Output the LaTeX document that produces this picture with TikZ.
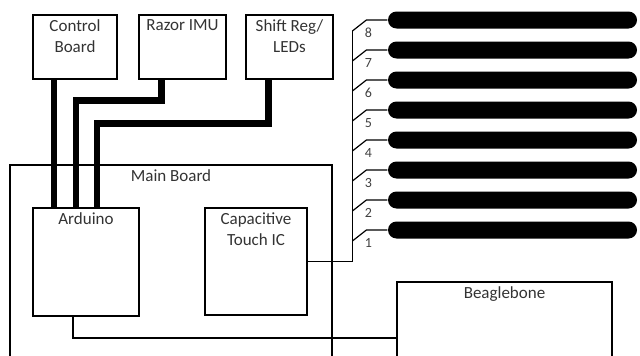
\documentclass[tikz,border=0pt]{standalone}
\usepackage{fontspec}
\setmainfont{Carlito}
\usetikzlibrary{shapes.misc}

\begin{document}
\begin{tikzpicture}[x=1pt, y=-1pt, node distance=30pt, line width=1.2pt,
  board/.style={draw, rectangle, inner sep=0pt},
  boardname/.style={anchor=north, yshift=-1pt, align=center, text=black!80,
    font=\fontsize{17}{21}\selectfont},
  wire/.style={line width=6.5pt},
  pad/.style={rounded rectangle, fill=black, minimum width=249pt,
    minimum height=17pt, inner sep=0pt},
  pin/.style={text=black!75, font=\fontsize{14}{16}\selectfont}]

  \useasboundingbox (0,0) rectangle (640,356);
  \clip (0,0) rectangle (640,356);

  % boards
  \node[board, minimum width=322pt, minimum height=235pt,
    label={[boardname]north:Main Board}] (main) at (171,282.5) {};
  \node[board, minimum width=84pt, minimum height=64pt,
    label={[boardname]north:Control\\Board}] (ctrl) at (75,47) {};
  \node[board, minimum width=87pt, minimum height=64pt,
    label={[boardname]north:Razor IMU}] (imu) at (182.5,47) {};
  \node[board, minimum width=87pt, minimum height=64pt,
    label={[boardname]north:Shift Reg/\\LEDs}] (shift) at (289.5,47) {};
  \node[board, minimum width=106pt, minimum height=108pt,
    label={[boardname]north:Arduino}] (ard) at (86,262) {};
  \node[board, minimum width=102pt, minimum height=107pt,
    label={[boardname]north:Capacitive\\Touch IC}] (touch) at (256,261.5) {};
  \node[board, minimum width=215pt, minimum height=112pt,
    label={[boardname]north:Beaglebone}] (bbone) at (504.5,338) {};

  % thick wires into the arduino
  \draw[wire] ([xshift=-21pt]ctrl.south) -- ([xshift=-32pt]ard.north);
  \draw[wire] ([xshift=-21pt]imu.south) -- ++(0,21) -| ([xshift=-10pt]ard.north);
  \draw[wire] ([xshift=-21pt]shift.south) -- ++(0,44) -| ([xshift=11pt]ard.north);

  \draw ([xshift=-13pt]ard.south) |- (bbone.west);

  % touch pads
  \node[pad] (pad8) at (512.5,20) {};
  \node[pad] (pad7) [below of=pad8] {};
  \node[pad] (pad6) [below of=pad7] {};
  \node[pad] (pad5) [below of=pad6] {};
  \node[pad] (pad4) [below of=pad5] {};
  \node[pad] (pad3) [below of=pad4] {};
  \node[pad] (pad2) [below of=pad3] {};
  \node[pad] (pad1) [below of=pad2] {};

  \draw (touch.east) -| ([xshift=-35pt,yshift=-11pt]pad8.west);
  \draw ([xshift=-35pt,yshift=-11pt]pad8.west) -- ([xshift=-21pt]pad8.west) -- (pad8.west);
  \draw ([xshift=-35pt,yshift=-11pt]pad7.west) -- ([xshift=-21pt]pad7.west) -- (pad7.west);
  \draw ([xshift=-35pt,yshift=-11pt]pad6.west) -- ([xshift=-21pt]pad6.west) -- (pad6.west);
  \draw ([xshift=-35pt,yshift=-11pt]pad5.west) -- ([xshift=-21pt]pad5.west) -- (pad5.west);
  \draw ([xshift=-35pt,yshift=-11pt]pad4.west) -- ([xshift=-21pt]pad4.west) -- (pad4.west);
  \draw ([xshift=-35pt,yshift=-11pt]pad3.west) -- ([xshift=-21pt]pad3.west) -- (pad3.west);
  \draw ([xshift=-35pt,yshift=-11pt]pad2.west) -- ([xshift=-21pt]pad2.west) -- (pad2.west);
  \draw ([xshift=-35pt,yshift=-11pt]pad1.west) -- ([xshift=-21pt]pad1.west) -- (pad1.west);

  \node[pin] (num8) at ([xshift=-19pt,yshift=-13pt]pad8.west) {8};
  \node[pin] (num7) at ([xshift=-19pt,yshift=-13pt]pad7.west) {7};
  \node[pin] (num6) at ([xshift=-19pt,yshift=-13pt]pad6.west) {6};
  \node[pin] (num5) at ([xshift=-19pt,yshift=-13pt]pad5.west) {5};
  \node[pin] (num4) at ([xshift=-19pt,yshift=-13pt]pad4.west) {4};
  \node[pin] (num3) at ([xshift=-19pt,yshift=-13pt]pad3.west) {3};
  \node[pin] (num2) at ([xshift=-19pt,yshift=-13pt]pad2.west) {2};
  \node[pin] (num1) at ([xshift=-19pt,yshift=-13pt]pad1.west) {1};

\end{tikzpicture}
\end{document}
